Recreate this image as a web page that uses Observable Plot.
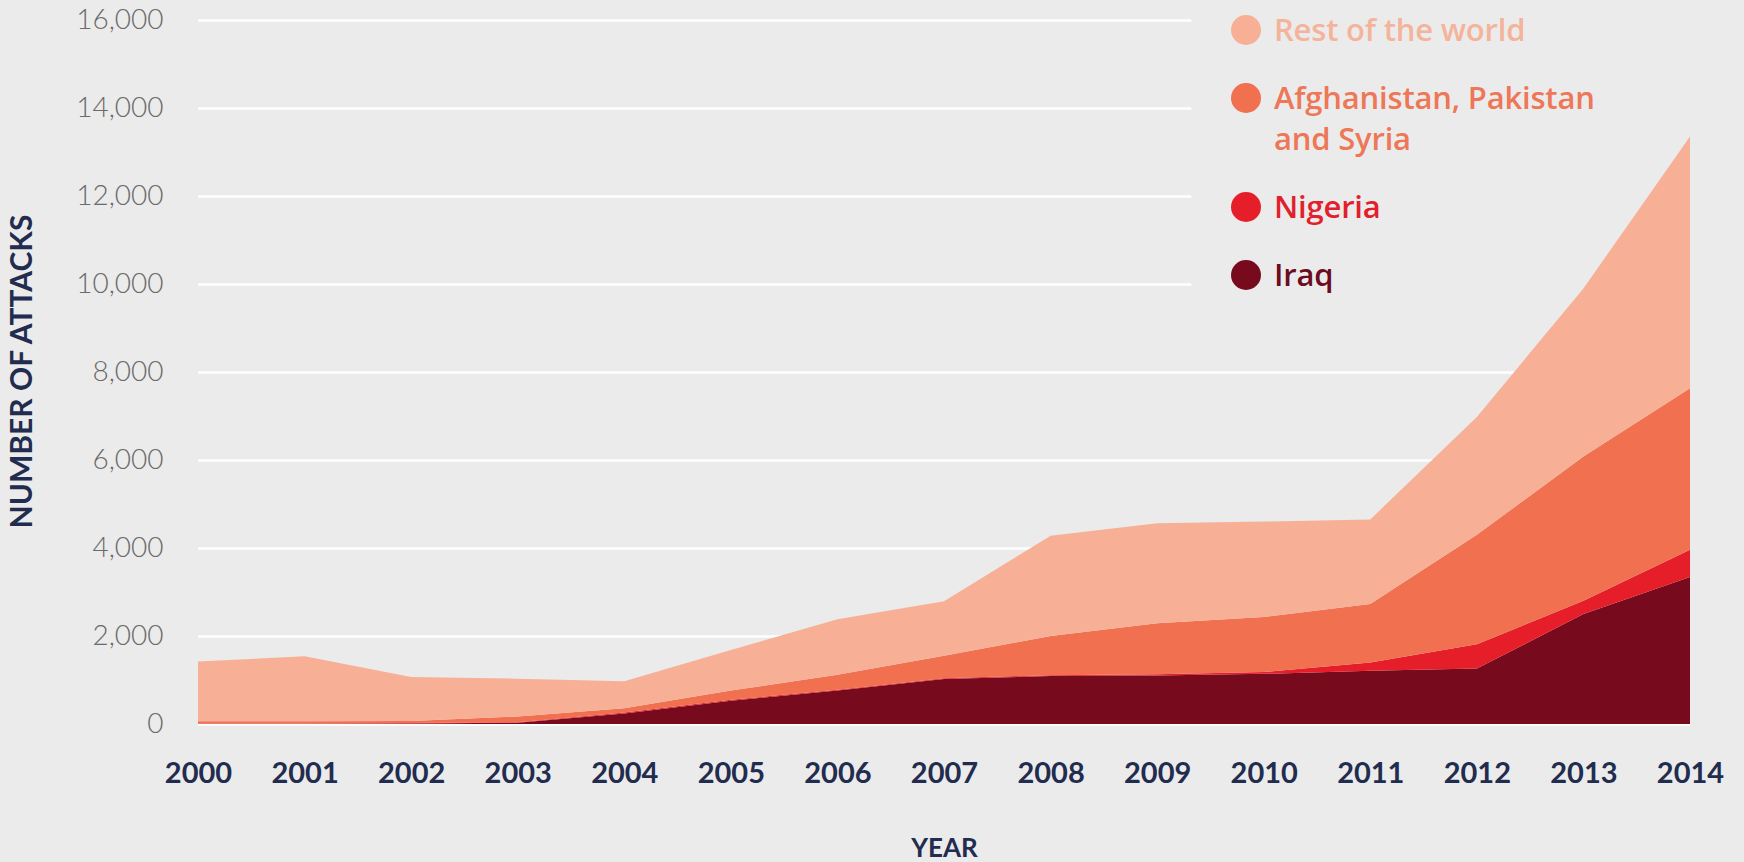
<!DOCTYPE html>
<html>
<head>
<meta charset="utf-8">
<script src="https://cdn.jsdelivr.net/npm/d3@7"></script>
<script src="https://cdn.jsdelivr.net/npm/@observablehq/plot@0.6"></script>
<style>
  html, body { margin: 0; padding: 0; background: #ebebeb; }
  #wrap { position: relative; width: 1744px; height: 862px; background: #ebebeb; overflow: hidden; }
  #legend { position: absolute; left: 1231px; top: 9px; display: flex; flex-direction: column; gap: 27px;
            font-family: "Open Sans", Roboto, sans-serif; font-weight: 600; font-size: 31px; line-height: 41px; }
  .item { display: flex; align-items: flex-start; }
  .dot { width: 30px; height: 30px; border-radius: 50%; margin-top: 5.5px; flex: none; }
  .lab { margin-left: 13px; white-space: pre; letter-spacing: -0.2px; }
</style>
</head>
<body>
<div id="wrap"><div id="chart"></div><div id="legend"></div></div>
<script>
// ---- data ----
const years = [2000, 2001, 2002, 2003, 2004, 2005, 2006, 2007, 2008, 2009, 2010, 2011, 2012, 2013, 2014];
const iraq        = [0, 0, 10, 30, 240, 530, 760, 1020, 1090, 1100, 1140, 1210, 1260, 2500, 3340];
const nigeria     = [10, 10, 10, 10, 20, 20, 20, 20, 20, 30, 40, 190, 550, 300, 620];
const afPakSyria  = [50, 50, 50, 130, 100, 210, 340, 510, 890, 1160, 1250, 1330, 2490, 3280, 3670];
const restOfWorld = [1360, 1480, 1000, 860, 610, 920, 1260, 1240, 2280, 2270, 2170, 1920, 2680, 3820, 5720];
const seriesNames = ["Iraq", "Nigeria", "Afghanistan, Pakistan and Syria", "Rest of the world"];
const legendNames = ["Rest of the world", "Afghanistan, Pakistan\nand Syria", "Nigeria", "Iraq"];
const yTicks = [0, 2000, 4000, 6000, 8000, 10000, 12000, 14000, 16000];

// ---- styles ----
const colors = ["#780a1e", "#e61e2a", "#f07050", "#f7b095"];
const legendTextColors = ["#f4b49b", "#ee7757", "#e21f2d", "#6c0c1f"];
const navy = "#222c4f";
const legendGapYear = 2009.32; // gridlines under the legend stop here

const seriesValues = [iraq, nigeria, afPakSyria, restOfWorld];
const table = [];
seriesNames.forEach((s, i) => years.forEach((y, j) => table.push({series: s, year: y, value: seriesValues[i][j]})));

const plot = Plot.plot({
  width: 1744,
  height: 862,
  marginLeft: 198,
  marginRight: 54,
  marginTop: 20,
  marginBottom: 138,
  style: {background: "transparent", fontFamily: "Lato, 'Open Sans', sans-serif", overflow: "visible"},
  x: {domain: [years[0], years[years.length - 1]]},
  y: {domain: [0, 16000]},
  color: {domain: seriesNames, range: colors},
  marks: [
    Plot.ruleY(yTicks, {y: d => d, x1: years[0], x2: d => d >= 10000 ? legendGapYear : years[years.length - 1], stroke: "#ffffff", strokeWidth: 2.5}),
    Plot.areaY(table, {x: "year", y: "value", fill: "series", order: seriesNames, curve: "linear"}),
    Plot.axisX({ticks: years, tickFormat: d => String(d), tickSize: 0, tickPadding: 38, label: null,
                fontSize: 29, fontWeight: 700, fill: navy}),
    Plot.axisY({ticks: yTicks, tickFormat: d3.format(","), tickSize: 0, tickPadding: 35, label: null,
                fontSize: 28, fontWeight: 300, fill: "#6a6a6a"}),
    Plot.text(["NUMBER OF ATTACKS"], {frameAnchor: "left", text: d => d, rotate: -90, dx: -176, dy: -1,
                fontSize: 30, fontWeight: 700, fill: navy, textAnchor: "middle", lineAnchor: "middle"}),
    Plot.text(["YEAR"], {frameAnchor: "bottom", text: d => d, dy: 124, fontSize: 26, fontWeight: 700,
                fill: navy, textAnchor: "middle", lineAnchor: "middle"})
  ]
});
document.getElementById("chart").appendChild(plot);

const legend = document.getElementById("legend");
legendNames.forEach((name, i) => {
  const ci = colors.length - 1 - i;
  const item = document.createElement("div");
  item.className = "item";
  const dot = document.createElement("div");
  dot.className = "dot";
  dot.style.background = colors[ci];
  const lab = document.createElement("div");
  lab.className = "lab";
  lab.style.color = legendTextColors[i];
  lab.textContent = name;
  item.appendChild(dot);
  item.appendChild(lab);
  legend.appendChild(item);
});
</script>
</body>
</html>
